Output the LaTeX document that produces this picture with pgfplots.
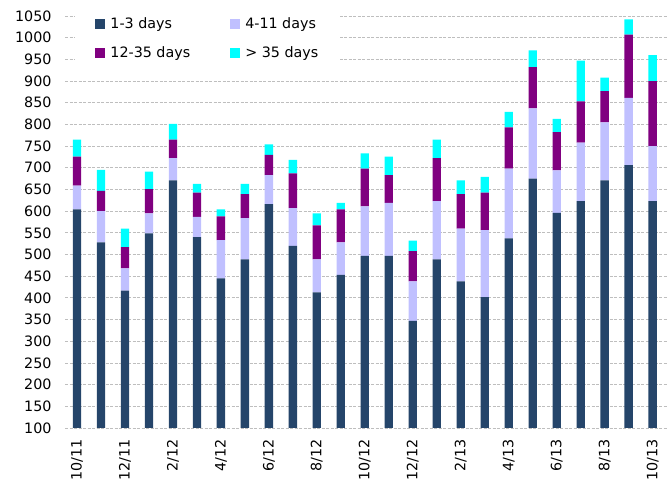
\documentclass[border=0pt]{standalone}
\usepackage{fontspec}
\setmainfont{DejaVu Sans}
\usepackage{pgfplots}
\usepackage{pgfplotstable}
\pgfplotsset{compat=1.18}

\definecolor{navy}{RGB}{37,69,106}
\definecolor{lav}{RGB}{192,192,255}
\definecolor{purp}{RGB}{128,0,128}
\definecolor{cyanb}{RGB}{0,255,255}
\definecolor{gridgray}{RGB}{190,190,190}

% month index, then the four age buckets
\pgfplotstableread{
x  d13  d411  d1235  d35
0  604   55    67    39
1  528   72    47    48
2  417   51    49    43
3  549   46    56    40
4  671   51    43    36
5  540   47    56    20
6  445   88    55    16
7  489   95    55    24
8  616   67    47    24
9  520   87    80    31
10 413   76    78    28
11 453   75    76    15
12 497  114    87    35
13 497  122    64    43
14 347   91    70    24
15 489  134    99    43
16 438  122    79    32
17 402  154    87    36
18 537  161    95    36
19 675  162    95    39
20 596   98    88    31
21 623  135    95    94
22 671  134    72    31
23 706  155   146    35
24 623  127   150    60
}\agedata

\pgfplotsset{
    sqlegend/.style={legend image code/.code={
        \fill[##1] (0bp,-5bp) rectangle (10bp,5bp);
        \path (13bp,0bp);}},
}

\begin{document}
\begin{tikzpicture}[font=\fontsize{14.3bp}{17bp}\selectfont]
\begin{axis}[
    at={(0,0)}, anchor=south west,
    scale only axis,
    width=602bp, height=412bp,
    ybar stacked,
    bar width=8.3bp,
    xmin=-0.5, xmax=24.6,
    ymin=100, ymax=1050,
    ytick={100,150,...,1050},
    xtick={0,2,...,24},
    xticklabels={10/11,12/11,2/12,4/12,6/12,8/12,10/12,12/12,2/13,4/13,6/13,8/13,10/13},
    xticklabel style={yshift=-8bp, rotate=90, anchor=east},
    yticklabel style={xshift=-10bp, /pgf/number format/1000 sep={}},
    /pgf/number format/assume math mode=true,
    major tick length=0pt,
    axis line style={draw=none},
    ymajorgrids=true,
    grid style={gridgray, dash pattern=on 3bp off 1.5bp, line width=0.8bp},
    sqlegend,
    legend columns=2,
    legend cell align=left,
    legend style={draw=none, fill=white, at={(0.017,1.01)}, anchor=north west,
        inner xsep=20bp, inner ysep=4bp,
        /tikz/every even column/.append style={column sep=38bp},
        row sep=12bp},
]
\addplot[fill=navy, draw=none] table[x=x, y=d13] {\agedata};
\addplot[fill=lav, draw=none] table[x=x, y=d411] {\agedata};
\addplot[fill=purp, draw=none] table[x=x, y=d1235] {\agedata};
\addplot[fill=cyanb, draw=none] table[x=x, y=d35] {\agedata};
\legend{1-3 days, 4-11 days, 12-35 days, > 35 days}
\end{axis}
\path[use as bounding box] (-65bp,-56bp) rectangle (605bp,428bp);
\end{tikzpicture}
\end{document}
